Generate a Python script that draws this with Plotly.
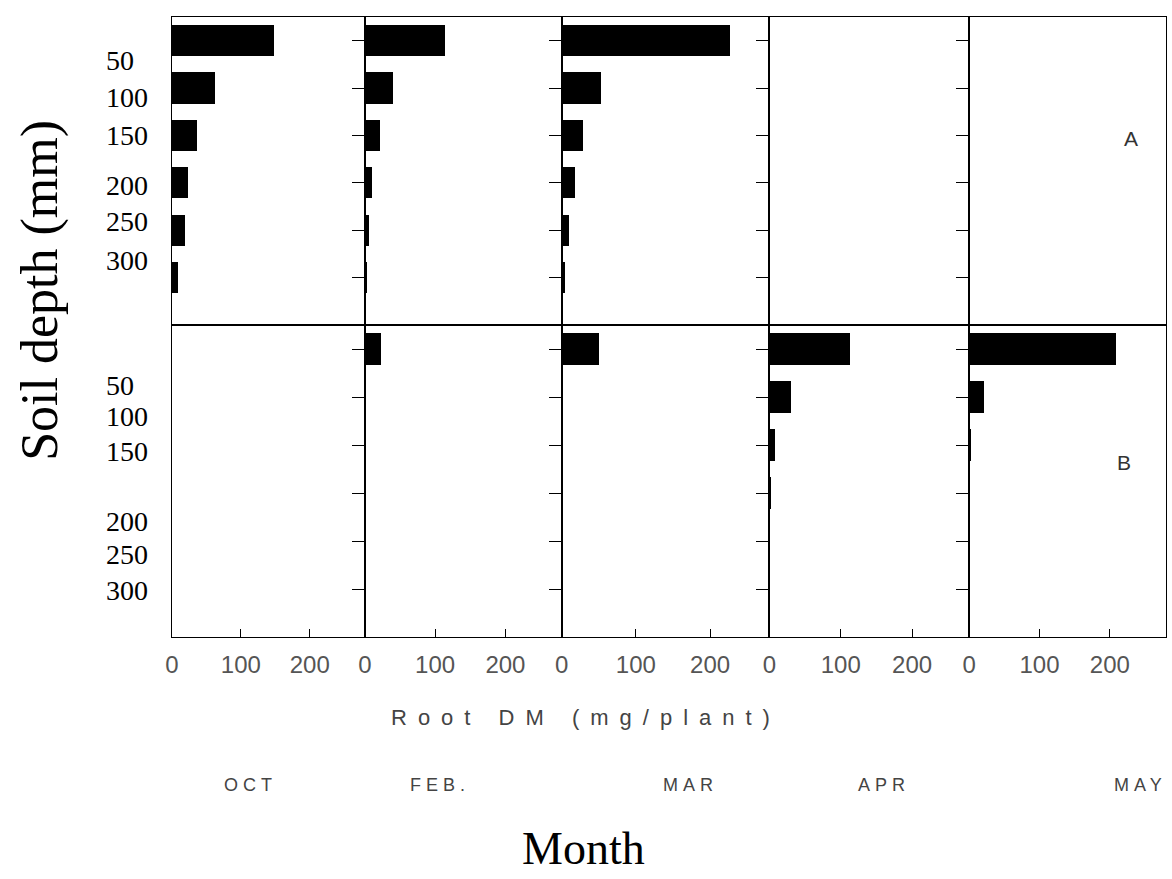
import plotly.graph_objects as go

# ---------------- data ----------------
months = ["OCT", "FEB.", "MAR", "APR", "MAY"]
depth_mid = [25, 75, 125, 175, 225, 275]          # layer centres (mm)
depth_labels = ["50", "100", "150", "200", "250", "300"]
x_tick_vals = [0, 100, 200]
x_tick_text = ["0", "100", "200"]

# Panel A (upper row) root DM (mg/plant) per layer
oct_A = [148, 63, 37, 23, 19, 8]
feb_A = [114, 40, 22, 10, 5, 3]
mar_A = [227, 52, 28, 17, 10, 4]
apr_A = [0, 0, 0, 0, 0, 0]
may_A = [0, 0, 0, 0, 0, 0]

# Panel B (lower row)
oct_B = [0, 0, 0, 0, 0, 0]
feb_B = [23, 0, 0, 0, 0, 0]
mar_B = [50, 0, 0, 0, 0, 0]
apr_B = [113, 31, 9, 1.5, 0, 0]
may_B = [209, 21, 2, 0, 0, 0]

rows = [[oct_A, feb_A, mar_A, apr_A, may_A],
        [oct_B, feb_B, mar_B, apr_B, may_B]]
panel_letters = ["A", "B"]

# ---------------- layout geometry (pixels) ----------------
W, H = 1172, 879
col_px = [(166, 360), (360, 558), (558, 767), (767, 968), (968, 1166)]
row_px = [(17, 325), (325, 637)]


def fx(px):
    return px / W


def fy(py):
    return 1 - py / H


fig = go.Figure()
layout = dict(
    width=W, height=H,
    margin=dict(l=0, r=0, t=0, b=0),
    paper_bgcolor="white", plot_bgcolor="white",
    showlegend=False, bargap=0,
)

for r, row in enumerate(rows):
    for c, vals in enumerate(row):
        n = r * 5 + c + 1
        fig.add_trace(go.Bar(
            x=vals, y=depth_mid, orientation="h",
            width=33, marker=dict(color="black", line=dict(width=0)),
            xaxis=f"x{n}", yaxis=f"y{n}", hoverinfo="x+y",
        ))
        xl, xr = col_px[c]
        yt, yb = row_px[r]
        xa = dict(
            domain=[fx(xl), fx(xr)], anchor=f"y{n}", range=[0, 280],
            showline=True, mirror=True, linecolor="black", linewidth=1,
            showgrid=False, zeroline=False, fixedrange=True,
        )
        if r == 1:
            xa.update(tickmode="array", tickvals=x_tick_vals, ticktext=x_tick_text,
                      ticks="inside", ticklen=8, tickcolor="black",
                      showticklabels=True, ticklabelstandoff=6,
                      tickfont=dict(family="Liberation Sans", size=24, color="#555"))
        else:
            xa.update(ticks="", showticklabels=False)
        ya = dict(
            domain=[fy(yb), fy(yt)], anchor=f"x{n}", range=[325, 0],
            showline=True, mirror=True, linecolor="black", linewidth=1,
            showgrid=False, zeroline=False, fixedrange=True,
            tickmode="array", tickvals=depth_mid, showticklabels=False,
            ticks="outside" if c > 0 else "", ticklen=12, tickcolor="black",
        )
        layout["xaxis" if n == 1 else f"xaxis{n}"] = xa
        layout["yaxis" if n == 1 else f"yaxis{n}"] = ya


def note(text, px, py, size, family, color="black", xanchor="center", angle=0):
    return dict(x=fx(px), y=fy(py), xref="paper", yref="paper", text=text,
                showarrow=False, xanchor=xanchor, yanchor="middle", borderpad=0,
                textangle=angle, font=dict(family=family, size=size, color=color))


annotations = []
# depth labels (typed beside the panels, left aligned)
label_py = [[60, 97, 135, 185, 222, 260], [385, 417, 451, 521, 554, 590]]
for r in range(2):
    for lab, py in zip(depth_labels, label_py[r]):
        annotations.append(note(lab, 99, py, 28, "Liberation Serif", xanchor="left"))

# panel letters
for lab, (px, py) in zip(panel_letters, [(1131, 138), (1124, 462)]):
    annotations.append(note(lab, px, py, 21, "Liberation Sans", "#333"))

# month labels
for m, px in zip(months, [245, 436, 688, 882, 1140]):
    annotations.append(note(f'<span style="letter-spacing:5px">{m}</span>',
                            px, 785, 18, "Liberation Sans", "#444"))

# axis titles
annotations.append(note('<span style="letter-spacing:11px">Root DM (mg/plant)</span>',
                        582, 717, 22, "Liberation Sans", "#444"))
annotations.append(note("Month", 580, 848, 46, "Liberation Serif"))
annotations.append(note("Soil depth (mm)", 33, 290, 52, "Liberation Serif", angle=-90))

layout["annotations"] = annotations
fig.update_layout(**layout)
fig.write_html("out.html", config={"displayModeBar": False},
               post_script="document.body.style.margin='0px';")
